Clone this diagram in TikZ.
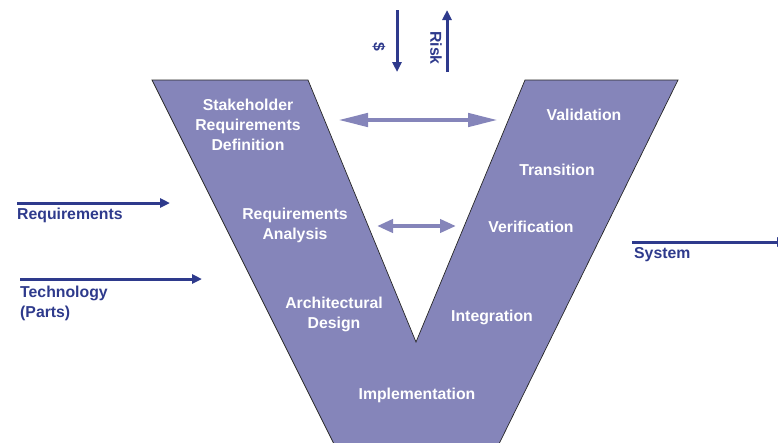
\documentclass[tikz,border=0pt]{standalone}
\usepackage{fontspec}
\setmainfont{Liberation Sans}
\usetikzlibrary{arrows.meta}
\definecolor{vfill}{RGB}{133,133,186}
\definecolor{dblue}{RGB}{46,58,140}
\tikzset{
  vtext/.style={text=white, font=\bfseries\fontsize{15.8}{20}\selectfont, align=center, inner sep=0pt},
  ltext/.style={text=dblue, font=\bfseries\fontsize{15.8}{20}\selectfont, align=left, inner sep=0pt, anchor=north west},
  inarrow/.style={draw=dblue, line width=3pt, -{Triangle[length=10pt,width=9pt]}},
  dblarrow/.style={draw=vfill, line width=4.5pt, {Triangle[length=#1,width=13pt]}-{Triangle[length=#1,width=13pt]}}
}
\begin{document}
\begin{tikzpicture}[x=1pt,y=-1pt]
\useasboundingbox (0,0) rectangle (778,442);
\begin{scope}
\clip (0,0) rectangle (778,442);
% V shape
\draw[fill=vfill, draw=black!85, line width=0.7pt]
  (152,80) coordinate (olt) -- (308,80) coordinate (ilt) -- (416,342) coordinate (iv)
  -- (525,80) coordinate (irt) -- (678,80) coordinate (ort) -- (497,448) -- (336,448) -- cycle;
% system arrow (cut at right edge)
\coordinate (sysA) at (632,242);
\coordinate (sysB) at (787,242);
\draw[inarrow] (sysA) -- (sysB);
\end{scope}

% top arrows
\coordinate (dA) at (397,10);
\coordinate (dB) at (397,72);
\draw[inarrow] (dA) -- (dB);
\coordinate (rA) at (447,72);
\coordinate (rB) at (447,10);
\draw[inarrow] (rA) -- (rB);
\node[text=dblue, font=\bfseries\fontsize{15.8}{20}\selectfont, rotate=-90, inner sep=0pt] (dollar) at (379,47) {\$};
\node[text=dblue, font=\bfseries\fontsize{15.8}{20}\selectfont, rotate=-90, inner sep=0pt] (risk) at (436,48) {Risk};

% double arrows
\coordinate (d1a) at (338,120);
\coordinate (d1b) at (498,120);
\draw[dblarrow=30pt] (d1a) -- (d1b);
\coordinate (d2a) at (377,226);
\coordinate (d2b) at (456,226);
\draw[dblarrow=16pt] (d2a) -- (d2b);

% left inputs
\coordinate (reqA) at (17,203);
\coordinate (reqB) at (170,203);
\draw[inarrow] (reqA) -- (reqB);
\node[ltext] (req) at (17,208) {Requirements};
\coordinate (tecA) at (20,279);
\coordinate (tecB) at (202,279);
\draw[inarrow] (tecA) -- (tecB);
\node[ltext] (tec) at (20,286) {Technology\\(Parts)};
\node[ltext] (sys) at (634,247) {System};

% V labels
\node[vtext] (shr) at (248,125) {Stakeholder\\Requirements\\Definition};
\node[vtext] (ra) at (295,225) {Requirements\\Analysis};
\node[vtext] (ad) at (334,314) {Architectural\\Design};
\node[vtext] (impl) at (417,395) {Implementation};
\node[vtext] (val) at (584,115) {Validation};
\node[vtext] (tra) at (557,170) {Transition};
\node[vtext] (ver) at (531,227) {Verification};
\node[vtext] (int) at (492,317) {Integration};
\end{tikzpicture}
\end{document}
